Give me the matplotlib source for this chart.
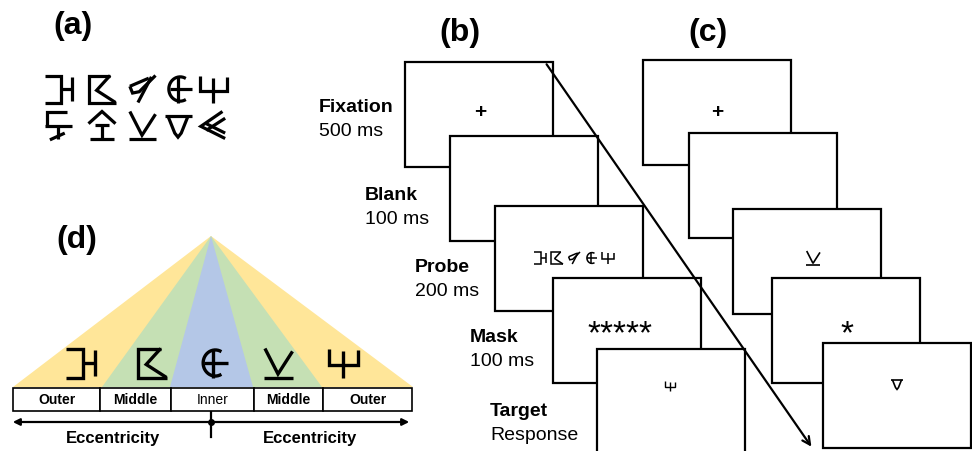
import numpy as np
import matplotlib
matplotlib.use("Agg")
import matplotlib.pyplot as plt
from matplotlib.patches import Rectangle, Polygon

plt.rcParams['font.family'] = ['Liberation Sans', 'DejaVu Sans']

# ---- data ----
panel_labels = ['(a)', '(b)', '(c)', '(d)']
stage_names = ['Fixation', 'Blank', 'Probe', 'Mask', 'Target']
stage_times = ['500 ms', '100 ms', '200 ms', '100 ms', 'Response']
zone_labels = ['Outer', 'Middle', 'Inner', 'Middle', 'Outer']
axis_label = 'Eccentricity'
zone_colors = ['#FFE699', '#C5E0B4', '#B4C7E7']

# stroke glyphs in a unit box (x right, y up)
arc = [(0.58 + 0.42 * np.cos(t), 0.5 + 0.45 * np.sin(t)) for t in np.linspace(np.pi / 3, 5 * np.pi / 3, 30)]
glyphs = {
    'g1': [[(0, 1), (0.6, 1), (0.6, 0), (0, 0)], [(0.6, 0.5), (1, 0.5)], [(1, 0.95), (1, 0.05)]],
    'g2': [[(0.8, 1), (0, 1), (0, 0), (1, 0)], [(0.8, 1), (0.3, 0.45), (1, 0)]],
    'g3': [[(0.05, 0.6), (0.75, 0.9)], [(0.05, 0.6), (0.15, 0.35), (0.4, 0.4), (1, 1)], [(0.35, 0), (0.85, 0.95)]],
    'g4': [arc, [(0.2, 0.5), (1, 0.5)], [(0.5, 1), (0.5, 0)]],
    'g5': [[(0, 1), (0, 0.42), (1, 0.42), (1, 0.95)], [(0.5, 0.9), (0.5, 0)]],
    'g6': [[(0.85, 1), (0.1, 1), (0.1, 0.45)], [(0, 0.45), (1, 0.45)], [(0.5, 0.45), (0.5, 0)], [(0.2, -0.05), (0.75, 0.2)]],
    'g7': [[(0, 0.55), (0.5, 1), (1, 0.55)], [(0.25, 0.5), (0.75, 0.5)], [(0.5, 0.5), (0.5, 0)], [(0.05, 0), (0.95, 0)]],
    'g8': [[(0.05, 1), (0.5, 0.12), (1, 0.9)], [(0, 0), (1, 0)]],
    'g9': [[(0, 0.85), (1, 0.85)], [(0.12, 0.85), (0.38, 0.2), (0.5, 0.05), (0.62, 0.2), (0.88, 0.85)]],
    'g10': [[(0.85, 1), (0.05, 0.45), (0.95, 0)], [(0.25, 0.55), (0.95, 0.2)], [(0.95, 0.75), (0.25, 0.3)]],
}
row1 = ['g1', 'g2', 'g3', 'g4', 'g5']
row2 = ['g6', 'g7', 'g8', 'g9', 'g10']
d_glyphs = ['g1', 'g2', 'g4', 'g8', 'g5']

# ---- figure ----
fig = plt.figure(figsize=(9.72, 4.51), dpi=100)
ax = fig.add_axes([0, 0, 1, 1])
ax.set_xlim(0, 972)
ax.set_ylim(451, 0)
ax.axis('off')


def draw_glyph(name, cx, cy, size, lw, z=5):
    for stroke in glyphs[name]:
        xs = [cx + (u - 0.5) * size for u, v in stroke]
        ys = [cy - (v - 0.5) * size for u, v in stroke]
        ax.plot(xs, ys, color='black', lw=lw, solid_capstyle='butt', solid_joinstyle='miter', zorder=z)


# panel labels
for lab, (x, y) in zip(panel_labels, [(73, 26), (460, 33), (708, 33), (77, 240)]):
    ax.text(x, y, lab, fontsize=23, fontweight='bold', ha='center', va='center')

# (a) glyph set
a_x = [58, 102, 142, 178, 213]
for i, g in enumerate(row1):
    draw_glyph(g, a_x[i], 89, 27, 2.3)
for i, g in enumerate(row2):
    draw_glyph(g, a_x[i], 125, 27, 2.3)

# (b) and (c) trial sequences
bw, bh = 148, 105
b_left = [405, 450, 495, 553, 597]
b_top = [62, 136, 206, 278, 349]
c_left = [643, 689, 733, 772, 823]
c_top = [60, 133, 209, 278, 343]
for seq_l, seq_t in [(b_left, b_top), (c_left, c_top)]:
    for k in range(5):
        ax.add_patch(Rectangle((seq_l[k], seq_t[k]), bw, bh, facecolor='white',
                               edgecolor='black', lw=1.6, zorder=2 + k * 0.1))

# box contents
ax.text(480, 112, '+', fontsize=15, fontweight='bold', ha='center', va='center', zorder=6)
for i, g in enumerate(row1):
    draw_glyph(g, 540 + i * 17, 258, 12, 1.1, z=6)
ax.text(620, 335, '*****', fontsize=24, ha='center', va='center', zorder=6)
draw_glyph('g5', 670, 386, 10, 1.0, z=6)

ax.text(717, 112, '+', fontsize=15, fontweight='bold', ha='center', va='center', zorder=6)
draw_glyph('g8', 813, 258, 14, 1.2, z=6)
ax.text(847, 335, '*', fontsize=24, ha='center', va='center', zorder=6)
draw_glyph('g9', 897, 384, 12, 1.2, z=6)

# time arrow in (b)
ax.annotate('', xy=(813, 449), xytext=(545, 62),
            arrowprops=dict(arrowstyle='->', lw=1.6, color='black', mutation_scale=14), zorder=7)

# stage labels
lab_x = [319, 365, 415, 470, 490]
lab_y = [108, 195, 267, 338, 412]
for name, t, x, y in zip(stage_names, stage_times, lab_x, lab_y):
    ax.text(x, y, name, fontsize=14, fontweight='bold', ha='left', va='center')
    ax.text(x, y + 24, t, fontsize=14, ha='left', va='center')

# (d) eccentricity diagram
apex = (211, 236)
base_y = 387
for (l, r), c in zip([(13, 413), (102, 322), (170, 253)], zone_colors):
    ax.add_patch(Polygon([apex, (l, base_y), (r, base_y)], closed=True, facecolor=c, edgecolor='none', zorder=1))
d_x = [80, 152, 213, 278, 343]
for g, x in zip(d_glyphs, d_x):
    draw_glyph(g, x, 363, 29, 2.4)

edges = [13, 100, 171, 254, 323, 412]
for k, lab in enumerate(zone_labels):
    ax.add_patch(Rectangle((edges[k], 388), edges[k + 1] - edges[k], 23, facecolor='white',
                           edgecolor='black', lw=1.2, zorder=3))
    ax.text((edges[k] + edges[k + 1]) / 2, 400, lab, fontsize=10,
            fontweight='normal' if lab == 'Inner' else 'bold', ha='center', va='center', zorder=4)

ax.annotate('', xy=(10, 422), xytext=(211, 422),
            arrowprops=dict(arrowstyle='-|>', lw=1.6, color='black', mutation_scale=10))
ax.annotate('', xy=(412, 422), xytext=(211, 422),
            arrowprops=dict(arrowstyle='-|>', lw=1.6, color='black', mutation_scale=10))
ax.plot([211, 211], [411, 437], color='black', lw=1.6)
ax.plot(211, 422, 'o', color='black', ms=4)
ax.text(113, 438, axis_label, fontsize=12, fontweight='bold', ha='center', va='center')
ax.text(310, 438, axis_label, fontsize=12, fontweight='bold', ha='center', va='center')

fig.savefig('out.png', dpi=100)
